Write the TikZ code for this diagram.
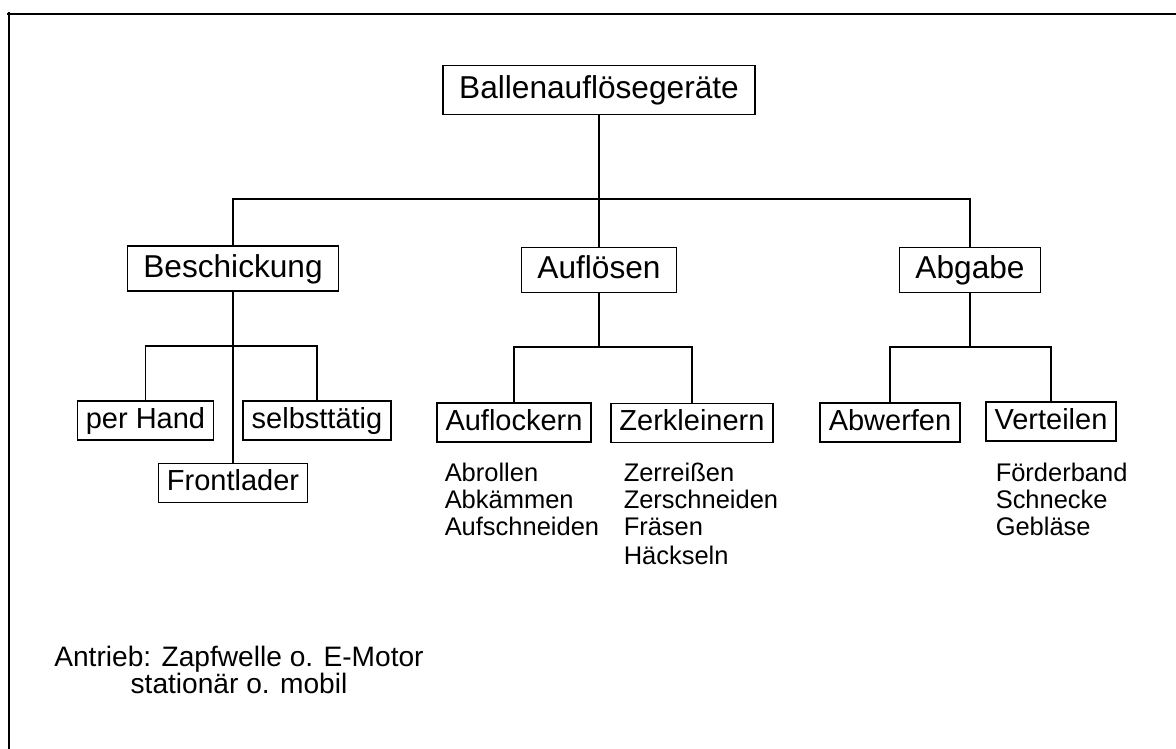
\documentclass[tikz,border=0pt]{standalone}
\usepackage{fontspec}
\setmainfont{Liberation Sans}
\usepackage{tikz}
\usetikzlibrary{positioning}

\begin{document}
\begin{tikzpicture}[
    line width=0.85pt,
    box/.style={draw, line width=0.9pt, inner xsep=0.32cm, inner ysep=0pt,
      text height=13.2pt, text depth=3.4pt,
      minimum height=0.9cm, font=\fontsize{18}{20}\selectfont},
    subbox/.style={draw, line width=0.9pt, inner xsep=0.17cm, inner ysep=0pt,
      text height=12.1pt, text depth=3.1pt,
      minimum height=0.78cm, font=\fontsize{16.5}{18}\selectfont},
    listtext/.style={anchor=north west, inner sep=0pt, align=left,
      font=\fontsize{14.5}{15.4}\selectfont}]
  \useasboundingbox (0,0) rectangle (23.52,14.98);
  % frame
  \draw[line width=1.6pt] (0.14,14.70) -- (23.52,14.70);
  \draw[line width=1.1pt] (0.18,14.74) -- (0.18,0);
  % top level
  \node[box, minimum height=0.98cm] (root) at (11.98, 13.18) {Ballenauflösegeräte};
  \node[box] (besch) at (4.66, 9.61) {Beschickung};
  \node[box] (aufl) at (11.98, 9.58) {Auflösen};
  \node[box] (abgabe) at (19.40, 9.58) {Abgabe};
  \coordinate (mainbar) at (11.98, 11.00);
  \draw (root.south) -- (aufl.north);
  \draw (besch.north) |- (mainbar) -| (abgabe.north);
  % Beschickung
  \node[subbox] (phand) at (2.91, 6.57) {per Hand};
  \node[subbox] (selbst) at (6.34, 6.57) {selbsttätig};
  \node[subbox] (front) at (4.66, 5.32) {Frontlader};
  \coordinate (beschbar) at (4.66, 8.06);
  \draw (phand.north) |- (beschbar) -| (selbst.north);
  \draw (besch.south) -- (front.north);
  % Aufloesen
  \node[subbox] (lock) at (10.28, 6.53) {Auflockern};
  \node[subbox] (zerk) at (13.84, 6.52) {Zerkleinern};
  \coordinate (auflbar) at (11.98, 8.04);
  \draw (aufl.south) -- (auflbar);
  \draw (lock.north) |- (auflbar) -| (zerk.north);
  \node[listtext] (locklist) at (8.88, 5.74) {Abrollen\\Abkämmen\\Aufschneiden};
  \node[listtext] (zerklist) at (12.46, 5.74)
    {Zerreißen\\Zerschneiden\\Fräsen\\[1pt]Häckseln};
  % Abgabe
  \node[subbox] (abwerf) at (17.80, 6.53) {Abwerfen};
  \node[subbox] (verteil) at (21.02, 6.55) {Verteilen};
  \coordinate (abgbar) at (19.40, 8.04);
  \draw (abgabe.south) -- (abgbar);
  \draw (abwerf.north) |- (abgbar) -| (verteil.north);
  \node[listtext] (verteillist) at (19.90, 5.74) {Förderband\\Schnecke\\Gebläse};
  % Antrieb
  \node[align=center, inner sep=0pt, font=\fontsize{16}{15.5}\selectfont] (antrieb)
    at (4.78, 1.58) {Antrieb: Zapfwelle o. E-Motor\\stationär o. mobil};
\end{tikzpicture}
\end{document}
